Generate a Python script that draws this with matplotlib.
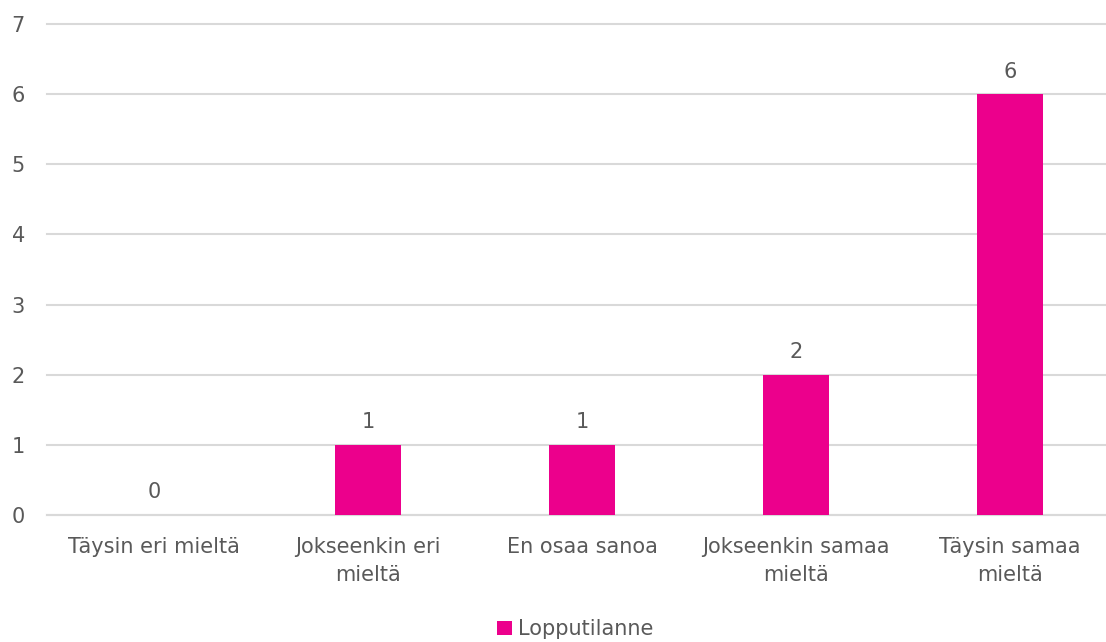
import matplotlib.pyplot as plt
from matplotlib.patches import Patch

categories = ["Täysin eri mieltä", "Jokseenkin eri\nmieltä", "En osaa sanoa",
              "Jokseenkin samaa\nmieltä", "Täysin samaa\nmieltä"]
values = [0, 1, 1, 2, 6]
series_name = "Lopputilanne"

pink = "#EC008C"
text_color = "#595959"

fig = plt.figure(figsize=(11.06, 6.42), dpi=100)
ax = fig.add_axes([47 / 1106, 127 / 642, 1070 / 1106, 491 / 642])

x = range(len(categories))
bars = ax.bar(x, values, width=0.31, color=pink, zorder=3)
ax.bar_label(bars, padding=9, fontsize=15, color=text_color)

ax.set_ylim(0, 7)
ax.set_xlim(-0.5, len(categories) - 0.5)
ax.set_yticks(range(0, 8))
ax.yaxis.grid(True, color="#d9d9d9", linewidth=1.5, zorder=0)
for line in ax.get_ygridlines():
    line.set_clip_on(False)
ax.set_xticks(list(x))
ax.set_xticklabels(categories, linespacing=1.5)
ax.tick_params(axis="both", length=0, labelsize=15, labelcolor=text_color)
ax.tick_params(axis="x", pad=16)
ax.tick_params(axis="y", pad=16)
for side in ["top", "right", "left"]:
    ax.spines[side].set_visible(False)
ax.spines["bottom"].set_color("#d9d9d9")
ax.spines["bottom"].set_linewidth(1.5)

handle = Patch(facecolor=pink, label=series_name)
fig.legend(handles=[handle], loc="lower center", bbox_to_anchor=(0.52, -0.025),
           frameon=False, fontsize=15, labelcolor=text_color,
           handlelength=0.7, handleheight=0.7, handletextpad=0.3)

fig.savefig("out.png", dpi=100)
